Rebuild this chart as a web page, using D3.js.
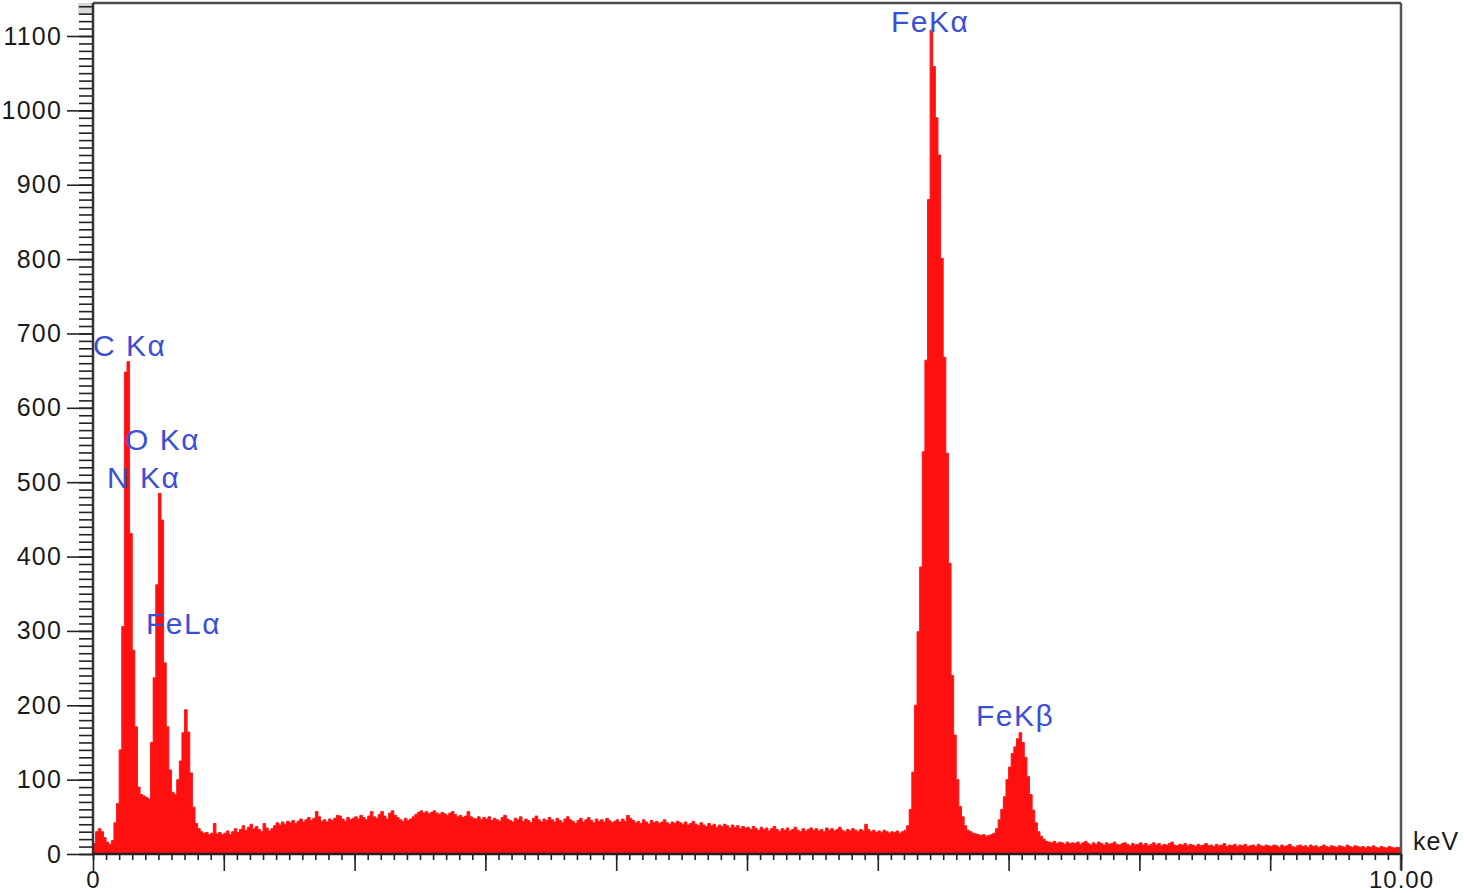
<!DOCTYPE html>
<html>
<head>
<meta charset="utf-8">
<script src="https://cdn.jsdelivr.net/npm/d3@7"></script>
<style>
html,body{margin:0;padding:0;background:#fff;}
svg{display:block;}
</style>
</head>
<body>
<svg id="chart" width="1464" height="893"></svg>
<script>
// Energy channel width (keV) and spectrum counts, channel i starts at i*channelWidth
const channelWidth = 0.02;
const energyMax = 10;
const counts = [
  // 0.00 - 0.48
  14, 30, 34, 30, 22, 16, 13, 18, 42, 68, 140, 306, 648, 662, 431, 274, 171, 90, 80, 78, 76, 74, 150, 237, 362,
  // 0.50 - 0.98
  485, 449, 257, 171, 113, 83, 80, 100, 125, 163, 194, 164, 109, 63, 41, 34, 30, 28, 29, 26, 28, 41, 27, 29, 26,
  // 1.00 - 1.48
  28, 31, 26, 30, 34, 29, 33, 38, 32, 36, 40, 34, 37, 33, 30, 41, 35, 31, 34, 38, 42, 39, 43, 40, 44,
  // 1.50 - 1.98
  42, 45, 41, 44, 47, 43, 46, 49, 45, 48, 57, 50, 44, 46, 43, 47, 45, 48, 52, 51, 47, 44, 49, 46, 48,
  // 2.00 - 2.48
  50, 47, 52, 49, 46, 51, 57, 50, 48, 53, 57, 51, 47, 55, 58, 52, 49, 46, 44, 48, 45, 47, 50, 53, 56,
  // 2.50 - 2.98
  58, 55, 57, 54, 56, 58, 55, 53, 56, 54, 52, 55, 57, 53, 50, 52, 49, 51, 57, 50, 48, 47, 50, 46, 49,
  // 3.00 - 3.48
  47, 50, 45, 48, 46, 44, 49, 52, 47, 45, 43, 48, 46, 50, 44, 47, 45, 42, 48, 51, 46, 43, 47, 45, 49,
  // 3.50 - 3.98
  46, 43, 48, 45, 42, 47, 50, 46, 44, 41, 45, 48, 43, 46, 49, 45, 42, 47, 44, 46, 43, 48, 45, 42, 44,
  // 4.00 - 4.48
  46, 43, 47, 44, 52, 48, 45, 42, 44, 41, 46, 43, 40, 45, 42, 44, 41, 43, 46, 42, 40, 43, 41, 44, 42,
  // 4.50 - 4.98
  40, 43, 39, 41, 44, 40, 38, 42, 39, 37, 41, 38, 40, 36, 39, 37, 40, 38, 35, 39, 36, 38, 34, 37, 35,
  // 5.00 - 5.48
  36, 33, 37, 34, 32, 36, 33, 35, 31, 34, 37, 33, 30, 34, 32, 35, 31, 33, 36, 32, 30, 34, 31, 33, 35,
  // 5.50 - 5.98
  32, 34, 31, 33, 30, 35, 32, 34, 31, 33, 36, 32, 30, 33, 31, 34, 32, 30, 33, 31, 40, 33, 30, 32, 29,
  // 6.00 - 6.48
  31, 29, 32, 30, 28, 30, 29, 31, 28, 30, 32, 38, 60, 110, 200, 299, 386, 541, 664, 880, 1108, 1059, 990, 940, 801,
  // 6.50 - 6.98
  668, 539, 391, 240, 160, 100, 64, 50, 38, 32, 30, 28, 27, 26, 25, 26, 24, 25, 26, 28, 34, 46, 60, 77, 100,
  // 7.00 - 7.48
  117, 135, 144, 155, 163, 150, 130, 104, 80, 59, 42, 30, 24, 20, 17, 16, 15, 17, 14, 16, 15, 13, 16, 14, 15,
  // 7.50 - 7.98
  14, 16, 13, 15, 17, 14, 12, 15, 13, 16, 14, 12, 15, 13, 14, 16, 13, 12, 14, 15, 13, 11, 14, 12, 13,
  // 8.00 - 8.48
  15, 12, 14, 11, 13, 15, 12, 14, 11, 13, 12, 14, 16, 12, 11, 13, 12, 14, 11, 13, 12, 10, 13, 11, 12,
  // 8.50 - 8.98
  14, 11, 12, 10, 13, 11, 12, 14, 10, 12, 11, 13, 10, 12, 11, 13, 10, 11, 12, 10, 13, 11, 10, 12, 11,
  // 9.00 - 9.48
  10, 12, 11, 9, 12, 10, 11, 13, 10, 9, 11, 12, 10, 11, 9, 12, 10, 11, 9, 10, 12, 10, 9, 11, 10,
  // 9.50 - 9.98
  9, 11, 10, 9, 12, 10, 9, 11, 10, 9, 10, 8, 10, 9, 11, 9, 8, 10, 9, 8, 10, 9, 8, 9, 9
];

// Axis tick values
const yMajorTicks = [0, 100, 200, 300, 400, 500, 600, 700, 800, 900, 1000, 1100];
const xMajorTicks = [0, 1, 2, 3, 4, 5, 6, 7, 8, 9, 10];
const xTickLabels = {0: "0", 10: "10.00"};
const xUnit = "keV";

// Peak annotations: label text, energy (keV) and count level of the text baseline
const peakNames  = ["C Kα", "O Kα", "N Kα", "FeLα", "FeKα", "FeKβ"];
const peakEnergy = [0.0, 0.245, 0.107, 0.405, 6.10, 6.75];
const peakLevel  = [670, 543, 492, 296, 1105, 172];

const svg = d3.select("#chart");
const x = d3.scaleLinear().domain([0, 10]).range([93, 1401]);
const y = d3.scaleLinear().domain([0, 1100]).range([854, 36]);
const yTop = y.invert(3);
const font = "Liberation Sans, Arial, sans-serif";

// spectrum points (step after)
const pts = counts.map((c, i) => [i * channelWidth, c]);
pts.push([energyMax, counts[counts.length - 1]]);

const area = d3.area()
  .x(d => x(d[0]))
  .y0(y(0))
  .y1(d => y(d[1]))
  .curve(d3.curveStepAfter);

svg.append("path")
  .datum(pts)
  .attr("d", area)
  .attr("fill", "#ff1010")
  .attr("stroke", "#ff1a1a")
  .attr("stroke-width", 1);

// Frame: top and right borders
svg.append("line").attr("x1", x(0)).attr("x2", x(10)).attr("y1", 3).attr("y2", 3)
  .attr("stroke", "#4a4a4a").attr("stroke-width", 2.5);
svg.append("line").attr("x1", x(10)).attr("x2", x(10)).attr("y1", 3).attr("y2", 870)
  .attr("stroke", "#555").attr("stroke-width", 2.5);

// gray strip at top of tick ruler
svg.append("rect").attr("x", 78).attr("y", 3).attr("width", 15).attr("height", 12).attr("fill", "#d8d8d8");

// Y minor ticks
const yMinor = d3.range(0, Math.floor(yTop / 10) * 10 + 1, 10);
const gyMinor = svg.append("g").attr("transform", `translate(${x(0)},0)`)
  .call(d3.axisLeft(y).tickValues(yMinor).tickSize(14).tickFormat(""));
gyMinor.select(".domain").remove();
gyMinor.selectAll("line").attr("stroke", "#222").attr("stroke-width", 1.6);

// Y major ticks
const gy = svg.append("g").attr("transform", `translate(${x(0)},0)`)
  .call(d3.axisLeft(y).tickValues(yMajorTicks).tickSize(26).tickPadding(5).tickFormat(d3.format("d")));
gy.select(".domain").remove();
gy.selectAll("line").attr("stroke", "#222").attr("stroke-width", 1.6);
gy.selectAll("text").attr("font-family", font)
  .attr("font-size", 25).attr("fill", "#1a1a1a").attr("letter-spacing", "1.2px");

// Y axis line
svg.append("line").attr("x1", x(0)).attr("x2", x(0)).attr("y1", 3).attr("y2", y(0))
  .attr("stroke", "#333").attr("stroke-width", 2.5);

// X minor ticks
const xMinor = d3.range(0, 101, 1).map(d => d / 10);
const gxMinor = svg.append("g").attr("transform", `translate(0,${y(0)})`)
  .call(d3.axisBottom(x).tickValues(xMinor).tickSize(6).tickFormat(""));
gxMinor.select(".domain").remove();
gxMinor.selectAll("line").attr("stroke", "#222").attr("stroke-width", 1.6);

// X major ticks
const gx = svg.append("g").attr("transform", `translate(0,${y(0)})`)
  .call(d3.axisBottom(x).tickValues(xMajorTicks).tickSize(17).tickPadding(0)
    .tickFormat(d => xTickLabels[d] || ""));
gx.select(".domain").remove();
gx.selectAll("line").attr("stroke", "#222").attr("stroke-width", 1.6);
gx.selectAll("text").attr("font-family", font)
  .attr("font-size", 24).attr("fill", "#1a1a1a").attr("letter-spacing", "1px");

// X axis line
svg.append("line").attr("x1", x(0)).attr("x2", x(10)).attr("y1", y(0)).attr("y2", y(0))
  .attr("stroke", "#222").attr("stroke-width", 2.5);

// unit label
svg.append("text").attr("x", x(10) + 12).attr("y", y(0) - 4)
  .attr("font-family", font).attr("font-size", 25)
  .attr("fill", "#1a1a1a").attr("letter-spacing", "1px").text(xUnit);

// Peak labels
svg.append("g").selectAll("text")
  .data(peakNames)
  .join("text")
  .attr("x", (d, i) => x(peakEnergy[i]))
  .attr("y", (d, i) => y(peakLevel[i]))
  .attr("font-family", font)
  .attr("font-size", 30)
  .attr("letter-spacing", "1.5px")
  .attr("fill", "#3b4fd6")
  .text(d => d);
</script>
</body>
</html>
